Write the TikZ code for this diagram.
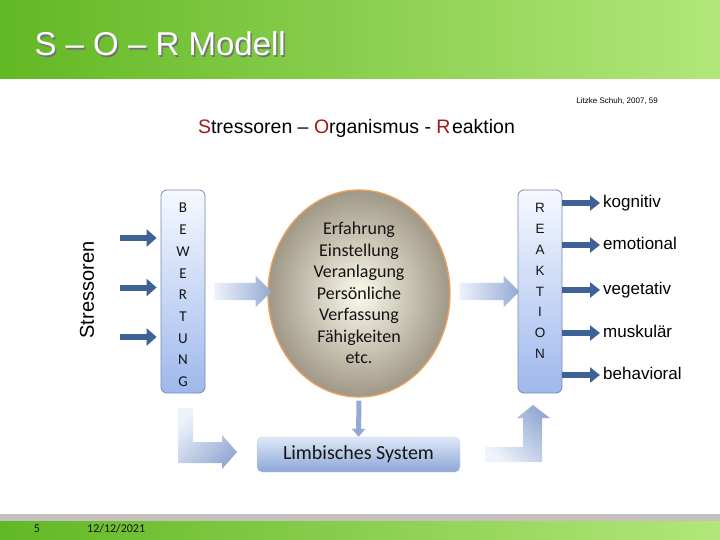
\documentclass[tikz,border=0pt]{standalone}
\usepackage{fontspec}
\setmainfont{Liberation Sans}
\newfontfamily\calfont{Carlito}
\usetikzlibrary{arrows.meta,calc,shapes.geometric,shapes.arrows}

\definecolor{hdrDark}{RGB}{98,184,36}
\definecolor{hdrLight}{RGB}{178,230,122}
\definecolor{sorRed}{RGB}{164,22,26}
\definecolor{darkArr}{RGB}{62,98,150}
\definecolor{boxTop}{RGB}{246,249,255}
\definecolor{boxBot}{RGB}{158,184,236}
\definecolor{boxEdge}{RGB}{120,138,170}
\definecolor{blkLight}{RGB}{238,242,250}
\definecolor{blkDark}{RGB}{148,170,212}
\definecolor{orgIn}{RGB}{252,250,236}
\definecolor{orgOut}{RGB}{160,152,134}
\definecolor{orgEdge}{RGB}{232,162,98}
\definecolor{limbTop}{RGB}{222,232,248}
\definecolor{limbBot}{RGB}{140,166,214}
\definecolor{footGray}{RGB}{196,192,190}
\definecolor{ink}{RGB}{20,20,20}

\begin{document}
\begin{tikzpicture}[x=1pt, y=-1pt, line join=round]

% ---------------- styles ----------------
\tikzset{
  letterbox/.style={draw=boxEdge, line width=0.8pt, rounded corners=6pt,
    top color=boxTop, bottom color=boxBot, minimum width=44pt, minimum height=203pt},
  stack/.style={align=center, inner sep=0pt, text=ink},
  stressArr/.style={draw=darkArr, line width=6pt, -{Triangle[length=10pt,width=17pt]}, shorten >=4pt},
  outArr/.style={draw=darkArr, line width=6pt, -{Triangle[length=10pt,width=15pt]}, shorten >=3pt},
  blockArr/.style={single arrow, single arrow head extend=7pt, inner xsep=0pt, inner ysep=8.5pt,
    left color=blkLight, right color=blkDark},
  lArr/.style={draw=none},
  outLabel/.style={anchor=west, inner sep=0pt, font=\fontsize{17}{20}\selectfont,
    text height=12pt, text depth=3.5pt}
}

\useasboundingbox (0,0) rectangle (720,540);

% ---------------- header / footer ----------------
\shade[left color=hdrDark, right color=hdrLight] (0,0) rectangle (720,79);
\node[anchor=west, text=black!55, font=\fontsize{33}{36}\selectfont] at (32.5,45.5) {S -- O -- R Modell};
\node[anchor=west, text=white, font=\fontsize{33}{36}\selectfont] (title) at (31,44) {S -- O -- R Modell};

\fill[footGray] (0,514) rectangle (720,521);
\shade[left color=hdrDark, right color=hdrLight] (0,521) rectangle (720,540);
\node[text=ink, font=\calfont\fontsize{12}{14}\selectfont] (footnum) at (37,529) {5};
\node[anchor=west, inner sep=0pt, text=ink, font=\calfont\fontsize{12}{14}\selectfont] (footdate) at (87,529) {12/12/2021};

% ---------------- captions ----------------
\node[anchor=east, inner sep=0pt, font=\fontsize{8}{9}\selectfont] (src) at (658,101) {Litzke Schuh, 2007, 59};
\node[font=\fontsize{19.5}{22}\selectfont] (sub) at (356.5,128)
  {\textcolor{sorRed}{S}tressoren -- \textcolor{sorRed}{O}rganismus - \textcolor{sorRed}{R}\kern1.5pt eaktion};
\node[rotate=90, font=\fontsize{20}{22}\selectfont] (stl) at (87,290) {Stressoren};

% ---------------- Bewertung ----------------
\node[letterbox] (bew) at (183,291.5) {};
\node[stack, font=\calfont\fontsize{15}{21.7}\selectfont] (bewtxt) at (183,295)
  {B\\E\\W\\E\\R\\T\\U\\N\\G};

\coordinate (s1) at (120,238);
\coordinate (s2) at (120,287.5);
\coordinate (s3) at (120,337);
\foreach \s in {s1,s2,s3}
  \draw[stressArr] (\s) -- (\s -| bew.west);

% ---------------- Organismus ----------------
\node[ellipse, draw=orgEdge, line width=1.4pt, inner color=orgIn, outer color=orgOut,
  minimum width=182pt, minimum height=207pt] (org) at (359,293.5) {};
\node[stack, font=\calfont\fontsize{18}{21.5}\selectfont] (orgtxt) at (359,293)
  {Erfahrung\\Einstellung\\Veranlagung\\Persönliche\\Verfassung\\Fähigkeiten\\etc.};

\node[blockArr, minimum height=57pt] (inArr) at (238.5,291.5) {};
\node[blockArr, minimum height=60pt] (exArr) at (485,291.5) {};

% ---------------- Reaktion ----------------
\node[letterbox] (rea) at (540,291.5) {};
\node[stack, font=\fontsize{13.5}{20.9}\selectfont] (reatxt) at (540,281)
  {R\\E\\A\\K\\T\\I\\O\\N};

\node[outLabel] (kog) at (603,203) {kognitiv};
\node[outLabel] (emo) at (603,245) {emotional};
\node[outLabel] (veg) at (603,290) {vegetativ};
\node[outLabel] (mus) at (603,333) {muskulär};
\node[outLabel] (beh) at (603,375) {behavioral};
\foreach \o in {kog,emo,veg,mus,beh}
  \draw[outArr] (rea.east |- \o.west) -- (\o.west);

% ---------------- Limbisches System ----------------
\node[draw=limbTop!80!gray, rounded corners=5pt, top color=limbTop, bottom color=limbBot,
  minimum width=203pt, minimum height=35pt, text=ink,
  font=\calfont\fontsize{20}{22}\selectfont] (limb) at (358.5,454.5) {Limbisches System};
\draw[draw=blkDark, line width=5pt, -{Triangle[length=8pt,width=13pt]}, shorten <=3pt]
  (org.south) -- (limb.north);

% L-shaped arrows
\shade[lArr, top color=blkLight, bottom color=blkDark, shading angle=45]
  (178,408) -- (193,408) -- (193,442) -- (222,442) -- (222,435) -- (237,452)
  -- (222,469) -- (222,463) -- (178,463) -- cycle;
\shade[lArr, top color=blkDark, bottom color=blkLight, shading angle=-45]
  (485,447) -- (523,447) -- (523,418) -- (517,418) -- (533,405) -- (550,418)
  -- (542,418) -- (542,462) -- (485,462) -- cycle;

\end{tikzpicture}
\end{document}
